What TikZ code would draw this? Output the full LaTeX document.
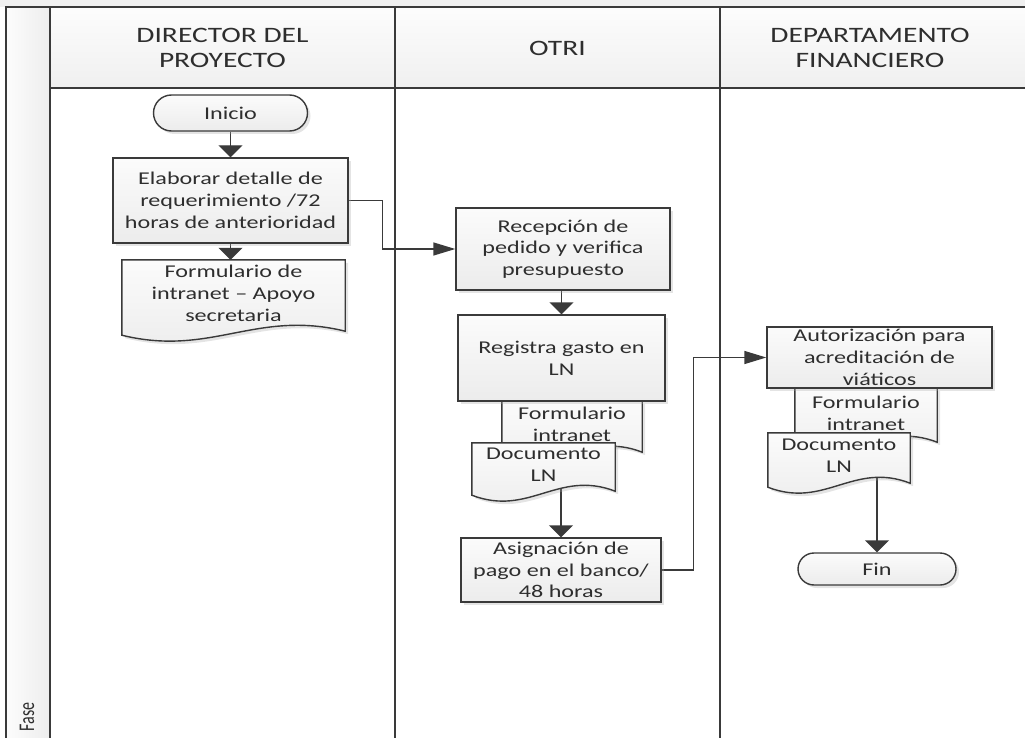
\documentclass[tikz,border=0pt]{standalone}
\usepackage{fontspec}
\usetikzlibrary{arrows.meta,shapes.misc,shadows,calc}
\newfontfamily\calib{Carlito}[FakeStretch=1.34]
\newfontfamily\calibn{Carlito}
\newcommand\bodyf{\calib\fontsize{18}{21.7}\selectfont}
\newcommand\headf{\calib\fontsize{22}{25}\selectfont}
\definecolor{lineC}{HTML}{3A3A3A}
\definecolor{textC}{HTML}{2E2E2E}
\pgfdeclarelayer{lanes}
\pgfdeclarelayer{conn}
\pgfdeclarelayer{docs}
\pgfsetlayers{lanes,conn,docs,main}
\tikzset{
  boxfill/.style={top color=gray!3, bottom color=gray!15},
  boxshadow/.style={drop shadow={shadow xshift=3pt, shadow yshift=-3pt, opacity=0.3, fill=gray!70}},
  procbox/.style={draw=lineC, line width=1.4pt, boxfill, boxshadow, align=center,
    text=textC, font=\bodyf, inner sep=1pt},
  termbox/.style={procbox, rounded rectangle},
  doctext/.style={align=center, text=textC, font=\bodyf, inner sep=0pt},
  docbody/.style={draw=lineC, line width=1.4pt, boxfill, boxshadow},
  flowv/.style={draw=lineC, line width=1.4pt, -{Triangle[length=12pt,width=24pt]}},
  flowh/.style={draw=lineC, line width=1.4pt, -{Triangle[length=22pt,width=13pt]}},
  lane/.style={draw=lineC, line width=1.5pt},
  headtext/.style={align=center, text=textC, font=\headf},
}
% document symbol: straight top and sides, wavy bottom below the node's south edge
\newcommand\docoutline[1]{%
  \begin{pgfonlayer}{docs}
    \path[docbody] let \p1=(#1.north west), \p2=(#1.south east), \n1={\x2-\x1} in
      (\p1) -- (\x1,\y2-8pt)
      .. controls (\x1+0.4*\n1,\y2-30pt) and (\x1+0.6*\n1,\y2+18pt) .. (\x2,\y2-4pt)
      -- (\x2,\y1) -- cycle;
  \end{pgfonlayer}}
\begin{document}
\begin{tikzpicture}[x=1pt,y=-1pt]
\useasboundingbox (0,0) rectangle (1025,738);

% swimlane frame
\begin{pgfonlayer}{lanes}
  \fill[gray!12] (0,0) rectangle (1025,7);
  \shade[left color=gray!2, right color=gray!14] (6,7) rectangle (50,738);
  \shade[top color=gray!2, bottom color=gray!12] (50,7) rectangle (1025,88);
  \draw[lane] (6,738) -- (6,7) -- (1025,7);
  \draw[lane] (50,7) -- (50,738);
  \draw[lane] (395,7) -- (395,738);
  \draw[lane] (720,7) -- (720,738);
  \draw[lane] (50,88) -- (1025,88);
\end{pgfonlayer}

% lane headings
\node[headtext] (hd1) at (222.5,48) {DIRECTOR DEL\\PROYECTO};
\node[headtext] (hd2) at (557.5,48) {OTRI};
\node[headtext] (hd3) at (870,48) {DEPARTAMENTO\\FINANCIERO};
\node[rotate=90, text=textC, font=\calibn\fontsize{16}{18}\selectfont] (fase) at (27,717)
  {\scalebox{1}[1.4]{Fase}};

% Director del proyecto
\node[termbox, minimum width=156pt, minimum height=36pt] (inicio) at (230.5,113) {Inicio};
\node[procbox, minimum width=235pt, minimum height=85pt] (elab) at (230.5,200.5)
  {Elaborar detalle de\\requerimiento /72\\horas de anterioridad};
\node[doctext, minimum width=223pt, minimum height=67pt] (form1) at (233.5,293.5)
  {Formulario de\\intranet – Apoyo\\secretaria};
\docoutline{form1}

% OTRI
\node[procbox, minimum width=214pt, minimum height=82pt] (recep) at (563,249)
  {Recepción de\\pedido y verifica\\presupuesto};
\node[procbox, minimum width=207pt, minimum height=86pt] (regis) at (561.5,358)
  {Registra gasto en\\LN};
\node[doctext, minimum width=140pt, minimum height=47pt] (form2) at (572,424.5)
  {Formulario\\intranet};
\docoutline{form2}
\node[doctext, minimum width=143pt, minimum height=44pt] (docm) at (543.5,465)
  {Documento\\LN};
\docoutline{docm}
\node[procbox, minimum width=200pt, minimum height=64pt] (asig) at (561,570)
  {Asignación de\\pago en el banco/\\48 horas};

% Departamento financiero
\node[procbox, minimum width=225pt, minimum height=61pt] (autor) at (879.5,357.5)
  {Autorización para\\acreditación de\\viáticos};
\node[doctext, minimum width=142pt, minimum height=50pt] (form3) at (866,413)
  {Formulario\\intranet};
\docoutline{form3}
\node[doctext, minimum width=142pt, minimum height=46pt] (docr) at (839,456)
  {Documento\\LN};
\docoutline{docr}
\node[termbox, minimum width=160pt, minimum height=32pt] (fin) at (877,569) {Fin};

% connectors
\begin{pgfonlayer}{conn}
  \draw[flowv] (inicio.south) -- (elab.north);
  \draw[flowv] (elab.south) -- (elab.south |- form1.north);
  \draw[flowh] (elab.east) -- ++(34,0) |- (recep.west);
  \draw[flowv] (regis.north |- recep.south) -- (regis.north);
  \draw[flowv] ($(asig.north |- docm.south)+(0,-6)$) -- (asig.north);
  \draw[flowh] (asig.east) -- ++(32,0) |- (autor.west);
  \draw[flowv] ($(fin.north |- docr.south)+(0,-6)$) -- (fin.north);
\end{pgfonlayer}
\end{tikzpicture}
\end{document}
